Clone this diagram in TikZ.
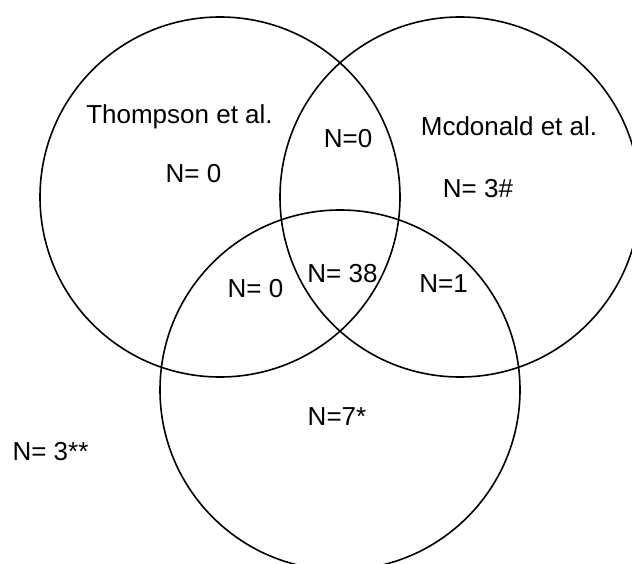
\documentclass[tikz,border=0pt]{standalone}
\usepackage{fontspec}
\setmainfont{Liberation Sans}
\begin{document}
\begin{tikzpicture}[x=1pt,y=-1pt,
  setcircle/.style={circle,draw=black,line width=1.6pt,minimum size=360pt,inner sep=0pt},
  lbl/.style={anchor=base,inner sep=0pt,font=\fontsize{26}{30}\selectfont}]
\useasboundingbox (0,0) rectangle (632,564);
\clip (0,0) rectangle (632,564);
\node[setcircle] (thompson) at (220,197) {};
\node[setcircle] (mcdonald) at (460,197) {};
\node[setcircle] (third) at (340,390) {};
\node[lbl] (tname) at (179.5,124) {Thompson et al.};
\node[lbl] (mname) at (509,136) {Mcdonald et al.};
\node[lbl] (tonly) at (193.5,183) {N= 0};
\node[lbl] (tm) at (348,148) {N=0};
\node[lbl] (monly) at (478,198) {N= 3\#};
\node[lbl] (tb) at (255.5,297) {N= 0};
\node[lbl] (all) at (342.5,282) {N= 38};
\node[lbl] (mb) at (443.5,292) {N=1};
\node[lbl] (bonly) at (337,425) {N=7*};
\node[lbl] (none) at (50.5,460) {N= 3**};
\end{tikzpicture}
\end{document}
